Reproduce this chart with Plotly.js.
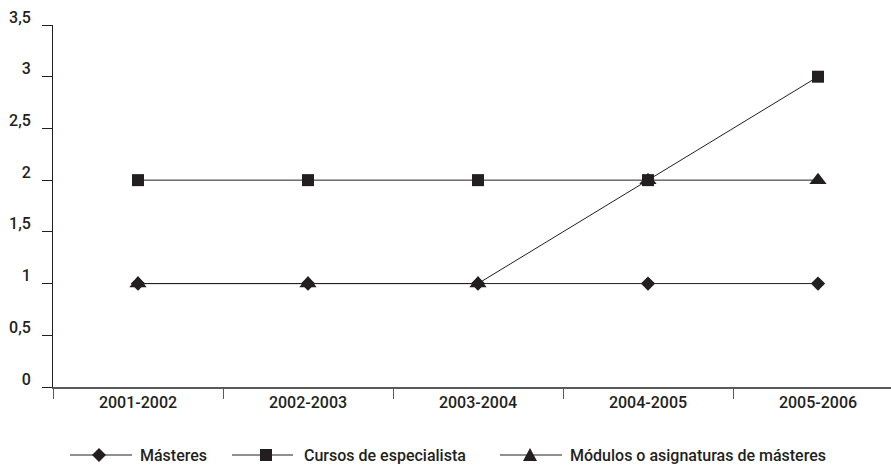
<!DOCTYPE html>
<html>
<head>
<meta charset="utf-8">
<script src="https://cdn.plot.ly/plotly-3.0.1.min.js"></script>
<style>html,body{margin:0;padding:0;background:#fff;}#chart{width:891px;height:467px;}</style>
</head>
<body>
<div id="chart"></div>
<script>
const categories = ["2001-2002", "2002-2003", "2003-2004", "2004-2005", "2005-2006"];
const masteres = [1, 1, 1, 1, 1];
const cursosEspecialista = [2, 2, 2, 2, 3];
const modulos = [1, 1, 1, 2, 2];
const yTickVals = [0, 0.5, 1, 1.5, 2, 2.5, 3, 3.5];
const yTickText = ["0", "0,5", "1", "1,5", "2", "2,5", "3", "3,5"];
const seriesNames = ["Másteres", "Cursos de especialista", "Módulos o asignaturas de másteres"];

const ink = "#231f20";
const font = {family: "Roboto, 'Noto Sans', sans-serif", size: 16, color: ink, weight: 500};

// plot area geometry (pixels)
const L = 53, T = 25, W = 838, H = 362;
const px = x => (x - L) / W;
const py = y => (T + H - y) / H;

function series(name, y, symbol, size) {
  return {
    type: "scatter", mode: "lines+markers", name: name,
    x: categories, y: y,
    line: {color: ink, width: 1},
    marker: {symbol: symbol, size: size, color: ink, line: {width: 0}},
    cliponaxis: false, showlegend: false
  };
}

const data = [
  series(seriesNames[0], masteres, "diamond", 11),
  series(seriesNames[1], cursosEspecialista, "square", 12),
  series(seriesNames[2], modulos, "triangle-up", 15)
];

// custom legend (line sample + symbol + label), laid out like the reference
const legendY = 455;
const legendItems = [
  {x0: 70, x1: 132, mx: 99, tx: 138, sym: "diamond"},
  {x0: 232, x1: 293, mx: 266, tx: 302, sym: "square"},
  {x0: 500, x1: 562, mx: 530, tx: 568, sym: "triangle"}
];
function symPath(sym, cx, cy) {
  const pts = sym === "diamond" ? [[cx, cy - 7], [cx + 7, cy], [cx, cy + 7], [cx - 7, cy]]
    : sym === "square" ? [[cx - 6, cy - 6], [cx + 6, cy - 6], [cx + 6, cy + 6], [cx - 6, cy + 6]]
    : [[cx, cy - 7], [cx + 7, cy + 6], [cx - 7, cy + 6]];
  return "M" + pts.map(p => px(p[0]) + "," + py(p[1])).join("L") + "Z";
}
const shapes = [], annotations = [];
legendItems.forEach((it, i) => {
  shapes.push({type: "line", xref: "paper", yref: "paper", x0: px(it.x0), x1: px(it.x1),
    y0: py(legendY), y1: py(legendY), line: {color: ink, width: 1}});
  shapes.push({type: "path", xref: "paper", yref: "paper", path: symPath(it.sym, it.mx, legendY),
    fillcolor: ink, line: {width: 0}});
  annotations.push({xref: "paper", yref: "paper", x: px(it.tx), y: py(legendY), xanchor: "left",
    yanchor: "middle", text: seriesNames[i], showarrow: false, font: font});
});

const layout = {
  width: 891, height: 467,
  margin: {l: L, r: 891 - L - W, t: T, b: 467 - T - H},
  paper_bgcolor: "#fff", plot_bgcolor: "#fff",
  font: font,
  showlegend: false,
  shapes: shapes, annotations: annotations,
  xaxis: {
    type: "category", range: [-0.5, -0.5 + W / 170],
    showline: true, linecolor: "#5a5a5a", linewidth: 2,
    ticks: "outside", tickson: "boundaries", ticklen: 10, tickcolor: "#5a5a5a", tickwidth: 1,
    showgrid: false, zeroline: false, tickfont: font, fixedrange: true
  },
  yaxis: {
    range: [0, 3.5], tickvals: yTickVals, ticktext: yTickText,
    showline: true, linecolor: ink, linewidth: 1,
    ticks: "outside", ticklen: 10, tickcolor: ink, tickwidth: 1,
    showgrid: false, zeroline: false, tickfont: font,
    ticklabelstandoff: 8, ticklabelshift: -8, fixedrange: true
  }
};

Plotly.newPlot("chart", data, layout, {displayModeBar: false, staticPlot: true});
</script>
</body>
</html>
